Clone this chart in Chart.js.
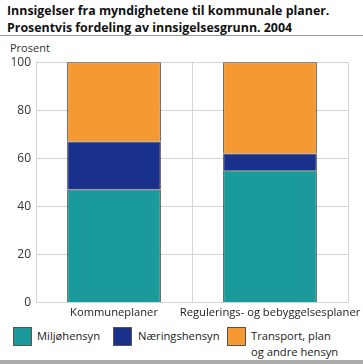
<!DOCTYPE html>
<html>
<head>
<meta charset="utf-8">
<script src="https://cdn.jsdelivr.net/npm/chart.js@4.4.0/dist/chart.umd.min.js"></script>
<style>
  body { margin: 0; background: #fff; font-family: "Open Sans", sans-serif; color: #222; }
  #wrap { position: relative; width: 363px; height: 364px; overflow: hidden; }
  #title { position: absolute; left: 7px; top: 2px; font-size: 12.4px; font-weight: bold; line-height: 17px; color: #111; }
  #rule { position: absolute; left: 0; top: 35px; width: 363px; height: 1px; background: #999; }
  #unit { position: absolute; left: 10px; top: 40px; font-size: 11px; color: #333; }
  #chartBox { position: absolute; left: 0; top: 50px; width: 363px; height: 274px; }
  .leg { position: absolute; font-size: 11.2px; line-height: 16px; color: #222; }
  .box { position: absolute; width: 19px; height: 19px; border: 1px solid #555; box-sizing: border-box; }
  #bottom { position: absolute; left: 0; top: 360px; width: 363px; height: 4px; background: #aaa; }
</style>
</head>
<body>
<div id="wrap">
  <div id="title">Innsigelser fra myndighetene til kommunale planer.<br>Prosentvis fordeling av innsigelsesgrunn. 2004</div>
  <div id="rule"></div>
  <div id="unit">Prosent</div>
  <div id="chartBox"><canvas id="chart"></canvas></div>
  <div id="legend"></div>
  <div id="bottom"></div>
</div>
<script>
const categories = ["Kommuneplaner", "Regulerings- og bebyggelsesplaner"];
const seriesNames = ["Miljøhensyn", "Næringshensyn", ["Transport, plan", "og andre hensyn"]];
const miljo = [47, 55];
const naering = [20, 7];
const transport = [33, 38];
const yTicks = [0, 20, 40, 60, 80, 100];
const colors = ["#1a9a9a", "#1a318c", "#f59a33"];

// legend drawn as html (third label goes over two lines)
const legendPos = [[13, 37], [113, 138], [227, 251]];
const legendEl = document.getElementById("legend");
seriesNames.forEach((name, i) => {
  const b = document.createElement("div");
  b.className = "box";
  b.style.left = legendPos[i][0] + "px";
  b.style.top = "327px";
  b.style.background = colors[i];
  legendEl.appendChild(b);
  const t = document.createElement("div");
  t.className = "leg";
  t.style.left = legendPos[i][1] + "px";
  t.style.top = "328px";
  t.innerHTML = Array.isArray(name) ? name.join("<br>") : name;
  legendEl.appendChild(t);
});

const data = [miljo, naering, transport];
new Chart(document.getElementById("chart"), {
  type: "bar",
  data: {
    labels: categories,
    datasets: data.map((vals, i) => ({
      label: Array.isArray(seriesNames[i]) ? seriesNames[i].join(" ") : seriesNames[i],
      data: vals,
      backgroundColor: colors[i],
      borderColor: "#222",
      borderWidth: 1,
      categoryPercentage: 0.6,
      barPercentage: 1
    }))
  },
  options: {
    responsive: true,
    maintainAspectRatio: false,
    animation: false,
    layout: { padding: { left: 0, right: 15, top: 8, bottom: 0 } },
    plugins: { legend: { display: false }, tooltip: { enabled: false } },
    scales: {
      x: {
        stacked: true,
        // long label may spill past the plot, like in the original
        afterFit: s => { s.paddingLeft = 0; s.paddingRight = 0; },
        grid: { color: "#d4d4d4", lineWidth: 1, offset: true, drawTicks: false },
        border: { color: "#d4d4d4" },
        ticks: { color: "#222", font: { family: "Open Sans", size: 11.2 }, padding: 4, maxRotation: 0, autoSkip: false }
      },
      y: {
        stacked: true,
        min: 0,
        max: 100,
        afterBuildTicks: s => { s.ticks = yTicks.map(v => ({ value: v })); },
        afterFit: s => { s.width = 36; },
        grid: { color: "#d4d4d4", lineWidth: 1, drawTicks: false },
        border: { color: "#d4d4d4" },
        ticks: { color: "#333", font: { family: "Open Sans", size: 12 }, padding: 5 }
      }
    }
  }
});
</script>
</body>
</html>
